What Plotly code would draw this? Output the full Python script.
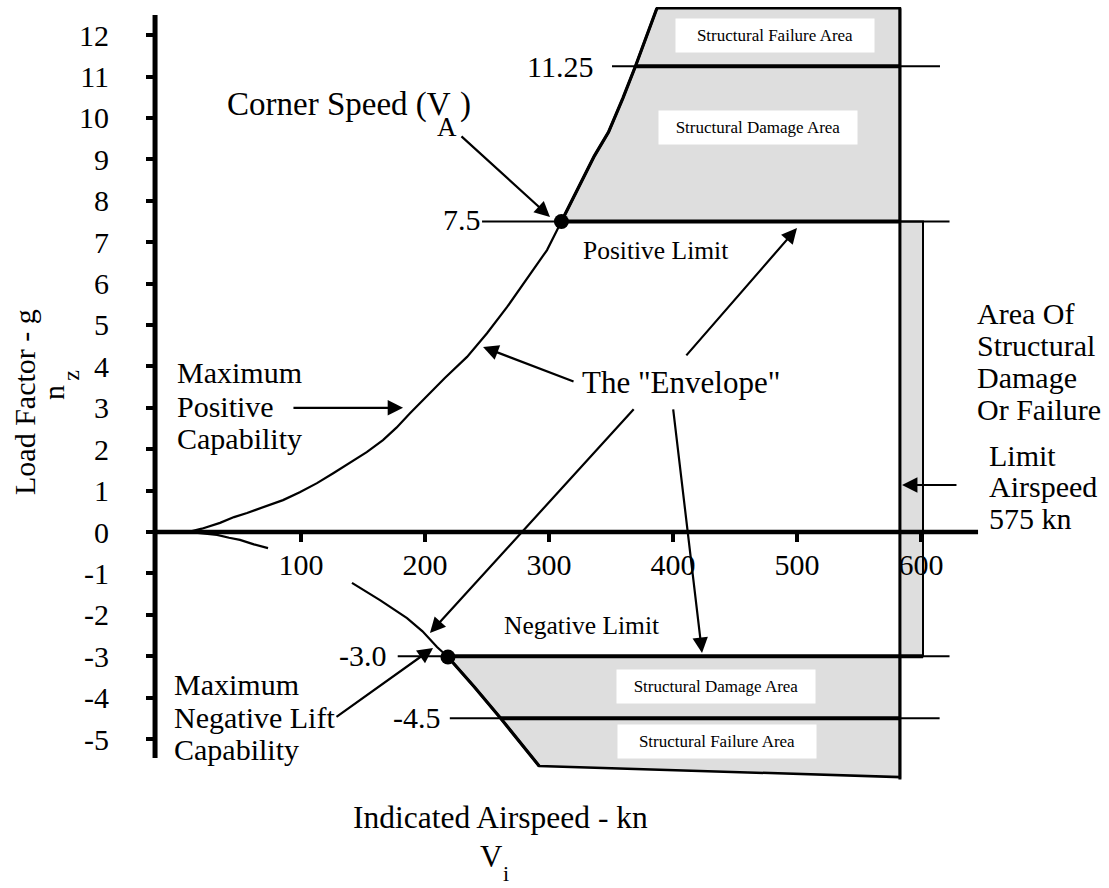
import plotly.graph_objects as go

FONT = "Liberation Serif"
BLACK = "black"
GRAY = "rgb(222,222,222)"

# ---------------- data ----------------
x_ticks = [100, 200, 300, 400, 500, 600]
x_tick_labels = ["100", "200", "300", "400", "500", "600"]
y_ticks = [-5, -4, -3, -2, -1, 0, 1, 2, 3, 4, 5, 6, 7, 8, 9, 10, 11, 12]
y_tick_labels = ["-5", "-4", "-3", "-2", "-1", "0", "1", "2", "3", "4", "5",
                 "6", "7", "8", "9", "10", "11", "12"]

# maximum positive capability (knots, g)
pos_speed = [9, 20, 34.7, 46, 56.5, 70, 85.5, 99, 112.9, 126, 139.5, 153, 166.1,
             177, 187.9, 198.4, 216, 233.9, 250, 266.1, 282, 298.4, 310]
pos_load = [0, 0.08, 0.22, 0.36, 0.46, 0.6, 0.77, 0.96, 1.18, 1.42, 1.67, 1.93, 2.22,
            2.52, 2.87, 3.19, 3.72, 4.23, 4.8, 5.43, 6.1, 6.81, 7.5]

# maximum negative lift capability (gap where the "100" label covers it)
neg_speed = [9, 20, 32.3, 42, 50.8, 62, 73.4, None, 141.1, 164, 185.5, 198, 209.7, 218.5]
neg_load = [0, -0.03, -0.07, -0.14, -0.19, -0.3, -0.39, None, -1.23, -1.65, -2.08, -2.4, -2.78, -3.02]

# structural damage / failure zones
pos_zone_speed = [310, 325, 336.5, 348, 359.6, 369.7, 387, 583, 583, 310]
pos_zone_load = [7.5, 8.38, 9.08, 9.66, 10.48, 11.25, 12.65, 12.65, 7.5, 7.5]
neg_zone_speed = [218.5, 240, 261, 276, 292, 583, 583, 218.5]
neg_zone_load = [-3.02, -3.75, -4.5, -5.05, -5.65, -5.92, -3.0, -3.0]
strip_speed = [583, 601.6, 601.6, 583, 583]
strip_load = [7.5, 7.5, -3.0, -3.0, 7.5]

limit_speed = 583            # drawn limit airspeed line
limit_load_range = [12.65, -5.98]

# load-limit reference lines: (load, thin from, thin to, thick from, thick to)
limit_loads = [11.25, 7.5, -3.0, -4.5]
thin_from = [350.8, 246, 178, 220]
thin_to = [615.3, 623, 623, 615]
thick_from = [369.7, 310, 218.5, 261]
thick_to = [583, 583, 601.6, 583]

corner_points_speed = [310, 218.5]
corner_points_load = [7.5, -3.02]

# axis line extents
x_axis_span = [-17.7, 646]
y_axis_span = [-5.46, 12.49]

fig = go.Figure()

def line(xs, ys, width, **kw):
    fig.add_trace(go.Scatter(x=xs, y=ys, mode="lines", line=dict(color=BLACK, width=width),
                             hoverinfo="skip", showlegend=False, **kw))

# zones
fig.add_trace(go.Scatter(x=pos_zone_speed, y=pos_zone_load, fill="toself", fillcolor=GRAY,
                         mode="lines", line=dict(color=BLACK, width=2.5), hoverinfo="skip",
                         showlegend=False))
fig.add_trace(go.Scatter(x=neg_zone_speed, y=neg_zone_load, fill="toself", fillcolor=GRAY,
                         mode="lines", line=dict(color=BLACK, width=2.5), hoverinfo="skip",
                         showlegend=False))
fig.add_trace(go.Scatter(x=strip_speed, y=strip_load, fill="toself", fillcolor=GRAY,
                         mode="lines", line=dict(color=BLACK, width=2), hoverinfo="skip",
                         showlegend=False))

# reference lines
for ld, a, b, c, d in zip(limit_loads, thin_from, thin_to, thick_from, thick_to):
    line([a, b], [ld, ld], 2)
    line([c, d], [ld, ld], 4)

line([limit_speed, limit_speed], limit_load_range, 3)

# axes lines
line(x_axis_span, [0, 0], 4.5)
line([x_axis_span[0], x_axis_span[0]], y_axis_span, 5)

# envelope curves
line(pos_speed, pos_load, 2.2)
line(neg_speed, neg_load, 2.2)
line(pos_zone_speed[:7], pos_zone_load[:7], 3.2)
line(neg_zone_speed[:5], neg_zone_load[:5], 3.2)

fig.add_trace(go.Scatter(x=corner_points_speed, y=corner_points_load, mode="markers",
                         marker=dict(color=BLACK, size=15), hoverinfo="skip", showlegend=False))

# ---------------- text ----------------
texts = [
    # text, x, y, size, xanchor
    ("Corner Speed (V", 38.7, 10.32, 33, "left"),
    (")", 226.5, 10.32, 33, "left"),
    ("A", 217.7, 9.78, 27, "center"),
    ("7.5", 229.8, 7.55, 30, "center"),
    ("11.25", 308.9, 11.25, 30, "center"),
    ("-3.0", 150, -2.98, 30, "center"),
    ("-4.5", 193.5, -4.48, 30, "center"),
    ("Positive Limit", 385.5, 6.81, 25.5, "center"),
    ("Negative Limit", 326.6, -2.25, 25.5, "center"),
    ('The "Envelope"', 406.5, 3.6, 31, "center"),
    ("Maximum", -1.6, 3.85, 30, "left"),
    ("Positive", -1.6, 3.03, 30, "left"),
    ("Capability", -1.6, 2.25, 30, "left"),
    ("Maximum", -4.0, -3.68, 30, "left"),
    ("Negative Lift", -4.0, -4.48, 30, "left"),
    ("Capability", -4.0, -5.25, 30, "left"),
    ("Area Of", 643.5, 5.28, 30, "left"),
    ("Structural", 643.5, 4.51, 30, "left"),
    ("Damage", 643.5, 3.74, 30, "left"),
    ("Or Failure", 643.5, 2.97, 30, "left"),
    ("Limit", 653.2, 1.85, 30, "left"),
    ("Airspeed", 653.2, 1.1, 30, "left"),
    ("575 kn", 653.2, 0.33, 30, "left"),
    ("Indicated Airspeed - kn", 260.5, -6.9, 31.5, "center"),
    ("V", 253.5, -7.85, 31, "center"),
    ("i", 265, -8.24, 22, "center"),
]
ann = []
for t, x, y, s, xa in texts:
    ann.append(dict(text=t, x=x, y=y, xref="x", yref="y", showarrow=False, xanchor=xa,
                    yanchor="middle", font=dict(family=FONT, size=s, color=BLACK)))

# rotated axis title
ann.append(dict(text="Load Factor - g", x=-123.4, y=3.14, xref="x", yref="y", showarrow=False,
                textangle=-90, font=dict(family=FONT, size=30, color=BLACK)))
ann.append(dict(text="n", x=-99.5, y=3.37, xref="x", yref="y", showarrow=False,
                textangle=-90, font=dict(family=FONT, size=30, color=BLACK)))
ann.append(dict(text="z", x=-85.5, y=3.8, xref="x", yref="y", showarrow=False,
                textangle=-90, font=dict(family=FONT, size=24, color=BLACK)))

# boxed area labels
boxes = [
    ("Structural Failure Area", 482.3, 12.0),
    ("Structural Damage Area", 468.5, 9.76),
    ("Structural Damage Area", 434.7, -3.72),
    ("Structural Failure Area", 435.5, -5.07),
]
for t, x, y in boxes:
    ann.append(dict(text=t, x=x, y=y, xref="x", yref="y", showarrow=False, bgcolor="white",
                    width=198, height=33, borderpad=0,
                    font=dict(family=FONT, size=17, color=BLACK)))

# arrows: tip (x, y), tail (ax, ay)
arrows = [
    (300.8, 7.61, 228.2, 9.59),
    (246.8, 4.47, 321.0, 3.62),
    (500.0, 7.34, 409.7, 4.23),
    (204.0, -2.44, 369.4, 3.00),
    (423.4, -2.92, 400.0, 3.00),
    (584.7, 1.135, 629.8, 1.135),
    (182.3, 3.0, 92.7, 3.0),
    (206.5, -2.80, 127.4, -4.49),
]
for x, y, ax, ay in arrows:
    ann.append(dict(x=x, y=y, ax=ax, ay=ay, xref="x", yref="y", axref="x", ayref="y",
                    text="", showarrow=True, arrowhead=2, arrowsize=1.4, arrowwidth=2.2,
                    arrowcolor=BLACK, standoff=0))

fig.update_layout(
    width=1109, height=888,
    margin=dict(l=0, r=0, t=0, b=0),
    paper_bgcolor="white", plot_bgcolor="white",
    annotations=ann,
    xaxis=dict(range=[-142.74, 751.6], showgrid=False, zeroline=False, showline=False,
               anchor="free", position=0.4009, tickmode="array", tickvals=x_ticks,
               ticktext=x_tick_labels, ticks="outside", ticklen=9, tickwidth=4,
               tickcolor=BLACK, ticklabelstandoff=-3,
               tickfont=dict(family=FONT, size=30, color=BLACK), fixedrange=True),
    yaxis=dict(range=[-8.599, 12.85], showgrid=False, zeroline=False, showline=False,
               anchor="free", position=0.1389, tickmode="array", tickvals=y_ticks,
               ticktext=y_tick_labels, ticks="outside", ticklen=8, tickwidth=4,
               tickcolor=BLACK, ticklabelstandoff=31,
               tickfont=dict(family=FONT, size=30, color=BLACK), fixedrange=True),
)

fig.write_html("out.html", config={"displayModeBar": False},
               post_script="document.body.style.margin='0';document.body.style.overflow='hidden';")
